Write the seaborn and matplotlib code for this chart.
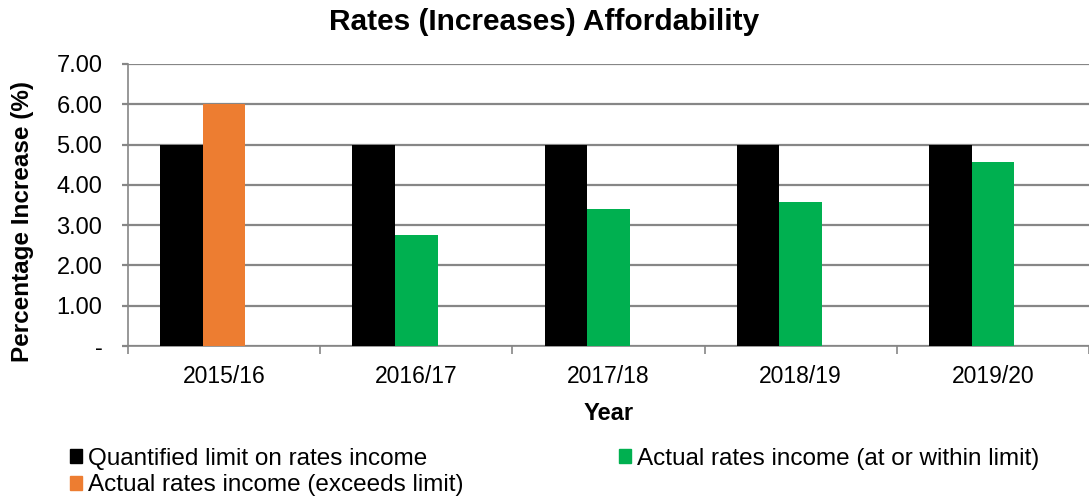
import numpy as np
import pandas as pd
import seaborn as sns
import matplotlib.pyplot as plt
from matplotlib.patches import Patch

# data
years = ['2015/16', '2016/17', '2017/18', '2018/19', '2019/20']
limit = [5.00, 5.00, 5.00, 5.00, 5.00]
actual = [6.00, 2.75, 3.40, 3.57, 4.57]
y_ticks = [0, 1, 2, 3, 4, 5, 6, 7]
y_labels = ['-', '1.00', '2.00', '3.00', '4.00', '5.00', '6.00', '7.00']

BLACK = '#000000'
GREEN = '#00B050'
ORANGE = '#ED7D31'
GRID = '#868686'

sns.set_style('white')
plt.rcParams['font.family'] = ['Liberation Sans', 'DejaVu Sans']
plt.rcParams['text.color'] = 'black'
plt.rcParams['axes.labelcolor'] = 'black'
plt.rcParams['xtick.labelcolor'] = 'black'
plt.rcParams['ytick.labelcolor'] = 'black'

df = pd.DataFrame({
    'Year': years * 2,
    'kind': ['Limit'] * len(years) + ['Actual'] * len(years),
    'value': limit + actual,
})

fig = plt.figure(figsize=(10.89, 4.97), dpi=100)
ax = fig.add_axes([128 / 1089, 1 - 346 / 497, 1 - 128 / 1089, (346 - 64) / 497])

# third (empty) hue slot keeps the Excel-like three-slot spacing
sns.barplot(data=df, x='Year', y='value', hue='kind',
            hue_order=['Limit', 'Actual', 'Spare'],
            palette={'Limit': BLACK, 'Actual': GREEN, 'Spare': 'white'},
            width=0.665, saturation=1, ax=ax, legend=False, zorder=3)

# recolor the actual bars that exceed the limit
for bar, a, l in zip(ax.containers[1], actual, limit):
    bar.set_facecolor(ORANGE if a > l else GREEN)
for c in ax.containers:
    for bar in c:
        bar.set_edgecolor('none')

ax.set_xlim(-0.5, 4.454)
ax.set_ylim(0, 7)
ax.set_yticks(y_ticks)
ax.set_yticklabels(y_labels)
ax.yaxis.grid(True, color=GRID, linewidth=1.6, zorder=0)
ax.set_axisbelow(True)

for s in ['top', 'right']:
    ax.spines[s].set_visible(False)
for s in ['left', 'bottom']:
    ax.spines[s].set_color(GRID)
    ax.spines[s].set_linewidth(1.2)

ax.tick_params(axis='y', left=True, length=4.5, color=GRID, width=1.6,
               labelsize=17, pad=14, labelcolor='black')
ax.set_xticks(np.arange(-0.5, 5, 1), minor=True)
ax.tick_params(axis='x', which='major', length=0, labelsize=16.5, pad=14,
               labelcolor='black')
ax.tick_params(axis='x', which='minor', length=6, color=GRID, width=1.2, bottom=True)

ax.set_xlabel('Year', fontsize=17, fontweight='bold', labelpad=10, color='black')
ax.set_ylabel('Percentage Increase (%)', fontsize=17.5, fontweight='bold', color='black')
ax.yaxis.set_label_coords(-0.098, 0.443)
fig.text(0.5, 1 - 22 / 497, 'Rates (Increases) Affordability', fontsize=21.5,
         fontweight='bold', ha='center', va='center', color='black')

handles = [
    Patch(color=BLACK, label='Quantified limit on rates income'),
    Patch(color=ORANGE, label='Actual rates income (exceeds limit)'),
    Patch(color=GREEN, label='Actual rates income (at or within limit)'),
]
fig.legend(handles=handles, ncol=2, loc='upper left', bbox_to_anchor=(0.053, 0.124),
           frameon=False, fontsize=17.5, handlelength=0.5, handleheight=0.5,
           handletextpad=0.25, columnspacing=6.4, labelspacing=0.2, borderpad=0,
           labelcolor='black')

fig.savefig('out.png', dpi=100)
